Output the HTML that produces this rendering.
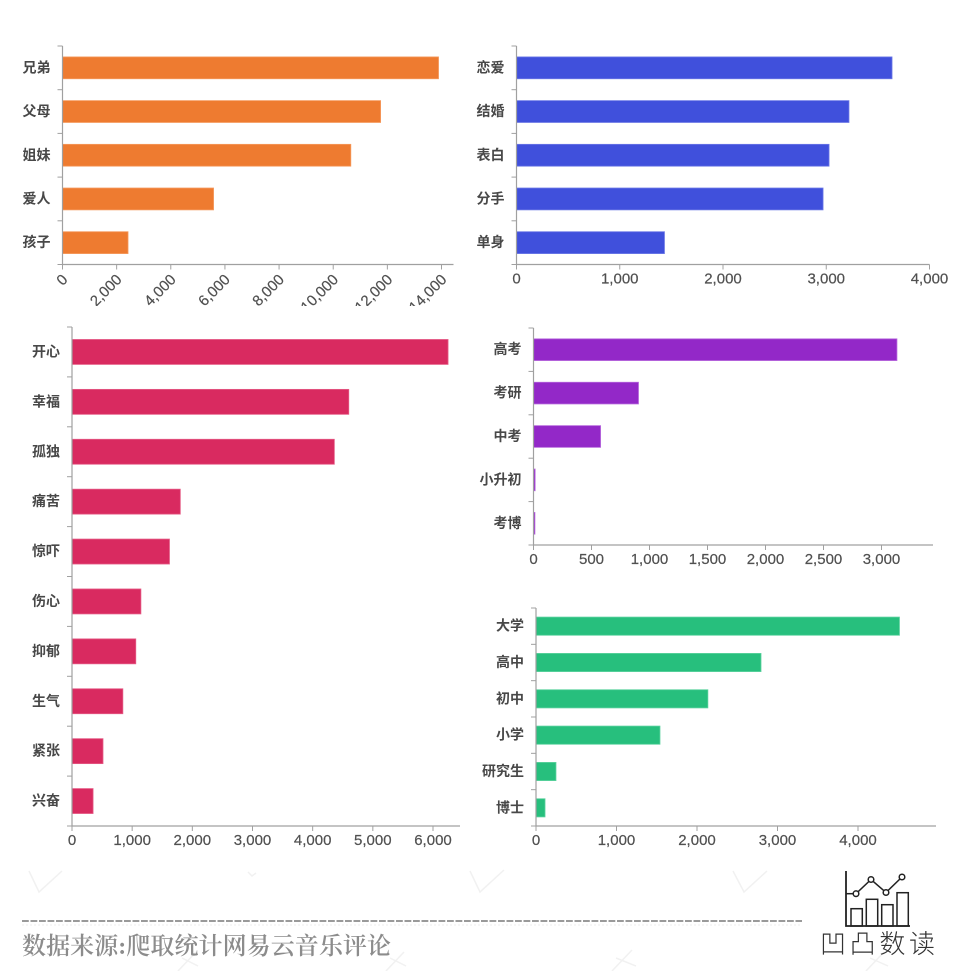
<!DOCTYPE html>
<html lang="zh">
<head>
<meta charset="utf-8">
<title>网易云音乐评论关键词统计</title>
<style>
html,body{margin:0;padding:0;background:#fff;}
body{width:960px;height:971px;overflow:hidden;}
svg{display:block;}
.cat{font-family:"Liberation Sans","Noto Sans CJK SC",sans-serif;font-size:14px;font-weight:700;fill:#484848;}
.tick{font-family:"Liberation Sans","Noto Sans CJK SC",sans-serif;font-size:15px;fill:#505050;stroke:#505050;stroke-width:0.2;}
.src{font-family:"Liberation Serif","Noto Serif CJK SC",serif;font-size:24px;font-weight:600;fill:#8c8c8c;}
.logo{font-family:"Liberation Sans","Noto Sans CJK SC",sans-serif;font-size:26px;fill:#333;font-weight:300;}
</style>
</head>
<body>
<svg id="root" xmlns="http://www.w3.org/2000/svg" width="960" height="971" viewBox="0 0 960 971">
  <defs>
    <clipPath id="clip-rotated"><rect x="0" y="0" width="480" height="306"></rect></clipPath>
  </defs>
  <g id="watermark" fill="none" stroke="#f1f1f1" stroke-width="1.5">
    <path d="M29 871L39 892L62 871"></path>
    <path d="M248 872L252 876L256 873"></path>
    <path d="M470 871L480 892L504 870"></path>
    <path d="M733 871L744 892L767 871"></path>
    <path d="M178 971L196 952M182 958L198 966"></path>
    <path d="M386 971L404 952M390 958L406 966"></path>
    <path d="M612 971L632 950M616 958L636 966"></path>
    <path d="M866 971L884 952M870 958L888 966"></path>
  </g>
  <g id="charts"></g>
  <line x1="22" y1="921" x2="802" y2="921" stroke="#9a9a9a" stroke-width="2" stroke-dasharray="6.8 1.7"></line>
  <line x1="22" y1="925" x2="802" y2="925" stroke="#eeeeee" stroke-width="1" stroke-dasharray="2 2"></line>
  <text class="src" x="22" y="954" textLength="369" lengthAdjust="spacing">数据来源:爬取统计网易云音乐评论</text>
  <g>
    <g fill="none" stroke="#222" stroke-width="1.5">
      <path d="M846 871V926H910" stroke-width="1.8"></path>
      <path d="M846 893.7H856"></path>
      <rect x="851" y="908.7" width="11.3" height="17.3"></rect>
      <rect x="866.3" y="899.3" width="11.4" height="26.7"></rect>
      <rect x="881.7" y="904.7" width="11.3" height="21.3"></rect>
      <rect x="897" y="892.7" width="11.3" height="33.3"></rect>
      <path d="M856 893.7L871 879.5L886 892.5L902 877"></path>
      <circle cx="856" cy="893.7" r="2.8" fill="#fff"></circle>
      <circle cx="871" cy="879.5" r="2.8" fill="#fff"></circle>
      <circle cx="886" cy="892.5" r="2.8" fill="#fff"></circle>
      <circle cx="902" cy="877" r="2.8" fill="#fff"></circle>
    </g>
    <text class="logo" x="820" y="953" textLength="115" lengthAdjust="spacing">凹凸数读</text>
  </g>
</svg>
<script>
const familyCategories = ['兄弟', '父母', '姐妹', '爱人', '孩子'];
const familyValues = [13890, 11750, 10650, 5580, 2420];
const familyTicks = [0, 2000, 4000, 6000, 8000, 10000, 12000, 14000];

const loveCategories = ['恋爱', '结婚', '表白', '分手', '单身'];
const loveValues = [3637, 3220, 3027, 2969, 1433];
const loveTicks = [0, 1000, 2000, 3000, 4000];

const moodCategories = ['开心', '幸福', '孤独', '痛苦', '惊吓', '伤心', '抑郁', '生气', '紧张', '兴奋'];
const moodValues = [6250, 4600, 4360, 1800, 1620, 1145, 1060, 845, 515, 350];
const moodTicks = [0, 1000, 2000, 3000, 4000, 5000, 6000];

const examCategories = ['高考', '考研', '中考', '小升初', '考博'];
const examValues = [3133, 905, 578, 14, 12];
const examTicks = [0, 500, 1000, 1500, 2000, 2500, 3000];

const schoolCategories = ['大学', '高中', '初中', '小学', '研究生', '博士'];
const schoolValues = [4515, 2795, 2135, 1540, 248, 112];
const schoolTicks = [0, 1000, 2000, 3000, 4000];

const SVGNS = 'http://www.w3.org/2000/svg';
const chartsRoot = document.getElementById('charts');

function node(tag, attrs, parent) {
  const el = document.createElementNS(SVGNS, tag);
  for (const k in attrs) el.setAttribute(k, attrs[k]);
  parent.appendChild(el);
  return el;
}

function drawChart(name, categories, values, ticks, o) {
  const g = node('g', {}, chartsRoot);
  
  

  const tickMax = ticks[ticks.length - 1];
  const xScale = function (v) { return o.x0 + (v / tickMax) * (o.xTickMax - o.x0); };
  const band = (o.yBottom - o.yTop) / categories.length;
  const yScale = function (i) { return o.yTop + band * (i + 0.5); };
  const barH = band * 0.5;

  values.forEach(function (v, i) {
    const bar = node('rect', {
      x: o.x0,
      y: yScale(i) - barH / 2,
      width: xScale(v) - o.x0,
      height: barH,
      fill: o.color,
      stroke: o.edge,
      'stroke-width': 0.8
    }, g);
    
    
  });

  const axes = node('path', {
    d: 'M' + o.x0 + ' ' + o.yTop + 'V' + o.yBottom + 'H' + o.xEnd,
    fill: 'none',
    stroke: '#a0a0a0',
    'stroke-width': 1.2
  }, g);
  
  

  for (let i = 0; i <= categories.length; i++) {
    const yy = o.yTop + band * i;
    const ct = node('line', { x1: o.x0 - 5, x2: o.x0, y1: yy, y2: yy, stroke: '#a0a0a0', 'stroke-width': 1 }, g);
    
    
  }

  categories.forEach(function (c, i) {
    const t = node('text', { class: 'cat', x: o.x0 - 12, y: yScale(i) + 4.5, 'text-anchor': 'end' }, g);
    t.textContent = c;
    
    
  });

  const labelLayer = node('g', o.rotate ? { 'clip-path': 'url(#clip-rotated)' } : {}, g);
  ticks.forEach(function (v) {
    const xx = xScale(v);
    const vt = node('line', { x1: xx, x2: xx, y1: o.yBottom, y2: o.yBottom + 5, stroke: '#a0a0a0', 'stroke-width': 1 }, g);
    
    
    const lab = v.toLocaleString('en-US');
    let t;
    if (o.rotate) {
      t = node('text', {
        class: 'tick',
        x: xx + 6,
        y: o.yBottom + 16,
        'text-anchor': 'end',
        transform: 'rotate(-45 ' + (xx + 6) + ' ' + (o.yBottom + 16) + ')'
      }, labelLayer);
    } else {
      t = node('text', { class: 'tick', x: xx, y: o.yBottom + 19, 'text-anchor': 'middle' }, labelLayer);
    }
    t.textContent = lab;
    
    
  });
}

drawChart('family', familyCategories, familyValues, familyTicks,
  { x0: 62.5, xTickMax: 441.5, xEnd: 453.5, yTop: 46, yBottom: 264.5, color: '#ee7b30', edge: '#f59a5e', rotate: true });
drawChart('love', loveCategories, loveValues, loveTicks,
  { x0: 516.5, xTickMax: 929.5, xEnd: 929.5, yTop: 46, yBottom: 264.5, color: '#4050dc', edge: '#6c78e6' });
drawChart('mood', moodCategories, moodValues, moodTicks,
  { x0: 72, xTickMax: 433, xEnd: 460, yTop: 327, yBottom: 826, color: '#d92a60', edge: '#e55c86' });
drawChart('exam', examCategories, examValues, examTicks,
  { x0: 533.5, xTickMax: 881.5, xEnd: 933, yTop: 328, yBottom: 545, color: '#9328c8', edge: '#b565dc' });
drawChart('school', schoolCategories, schoolValues, schoolTicks,
  { x0: 536, xTickMax: 858, xEnd: 936, yTop: 608, yBottom: 826, color: '#27bf7d', edge: '#5cd29e' });
</script>
</body>
</html>
